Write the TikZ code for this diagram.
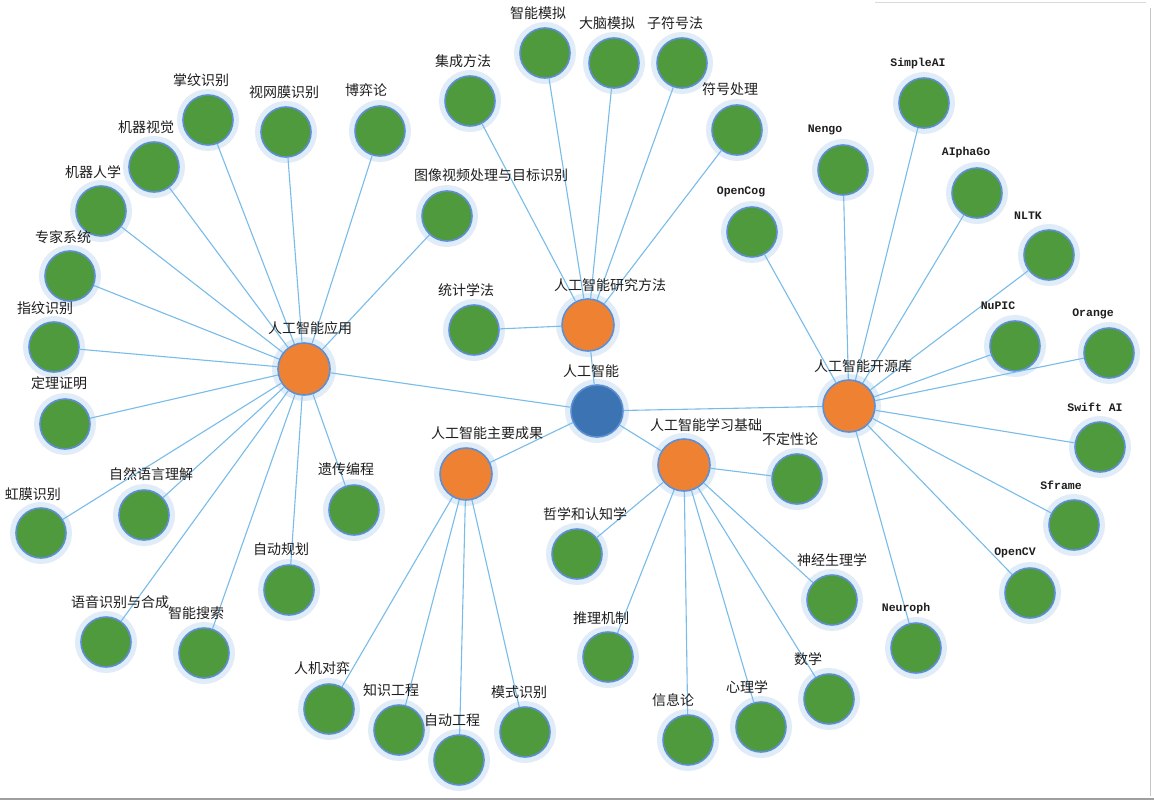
\documentclass[tikz,border=0pt]{standalone}
\usepackage{fontspec}
\setmainfont{Noto Sans CJK SC}
\newfontfamily\latinmono{Liberation Mono}
\definecolor{leafgreen}{HTML}{4F9A3C}
\definecolor{huborange}{HTML}{EF8232}
\definecolor{rootblue}{HTML}{3C73B2}
\definecolor{ringblue}{HTML}{5C8FD4}
\definecolor{haloblue}{HTML}{E1ECF9}
\definecolor{edgeblue}{HTML}{78BCE9}
\definecolor{inkgray}{HTML}{1E1E1E}
\begin{document}
\begin{tikzpicture}[x=1pt,y=-1pt,
	ball/.style={circle,inner sep=0pt,minimum size=50pt,draw=ringblue,line width=1.6pt,
		preaction={draw=haloblue,line width=12pt}},
	leaf/.style={ball,fill=leafgreen},
	hub/.style={ball,fill=huborange,minimum size=52pt},
	root/.style={ball,fill=rootblue,minimum size=52pt},
	lab/.style={font=\fontsize{14}{14}\selectfont,text=inkgray,inner sep=0pt},
	tlab/.style={font=\latinmono\bfseries\fontsize{11.5}{12}\selectfont,text=inkgray,inner sep=0pt},
	edge/.style={draw=edgeblue,line width=1.1pt}]
	\fill[white] (0,0) rectangle (1154,800);
	\useasboundingbox (0,0) rectangle (1154,800);
	\draw[gray!75,line width=1.5pt] (0,799) -- (1154,799);
	\draw[gray!30,line width=0.8pt] (875,2) -- (1146,2);
	\draw[gray!45,line width=0.8pt] (1150,8) -- (1150,796);
	% hubs
	\node[root] (ai) at (597,411) {};
	\node[hub] (app) at (304,369) {};
	\node[hub] (meth) at (588,325) {};
	\node[hub] (lib) at (849,406) {};
	\node[hub] (res) at (466,474) {};
	\node[hub] (base) at (684,465) {};
	% applications
	\node[leaf] (palm) at (208,120) {};
	\node[leaf] (retina) at (286,132) {};
	\node[leaf] (game) at (380,131) {};
	\node[leaf] (vision) at (154,167) {};
	\node[leaf] (robot) at (101,211) {};
	\node[leaf] (expert) at (70,276) {};
	\node[leaf] (finger) at (54,347) {};
	\node[leaf] (theorem) at (65,424) {};
	\node[leaf] (iris) at (41,533) {};
	\node[leaf] (nlu) at (144,515) {};
	\node[leaf] (speech) at (106,642) {};
	\node[leaf] (search) at (204,653) {};
	\node[leaf] (plan) at (289,590) {};
	\node[leaf] (genetic) at (354,510) {};
	\node[leaf] (video) at (447,216) {};
	% methods
	\node[leaf] (ensemble) at (470,101) {};
	\node[leaf] (smart) at (545,53) {};
	\node[leaf] (brain) at (614,63) {};
	\node[leaf] (subsym) at (682,63) {};
	\node[leaf] (symbol) at (737,130) {};
	\node[leaf] (stats) at (474,330) {};
	% libraries
	\node[leaf] (opencog) at (752,232) {};
	\node[leaf] (nengo) at (843,170) {};
	\node[leaf] (simpleai) at (924,103) {};
	\node[leaf] (alphago) at (977,193) {};
	\node[leaf] (nltk) at (1049,255) {};
	\node[leaf] (nupic) at (1015,346) {};
	\node[leaf] (orange) at (1109,353) {};
	\node[leaf] (swift) at (1100,447) {};
	\node[leaf] (sframe) at (1074,525) {};
	\node[leaf] (opencv) at (1030,593) {};
	\node[leaf] (neuroph) at (916,648) {};
	% results
	\node[leaf] (duel) at (329,709) {};
	\node[leaf] (know) at (399,730) {};
	\node[leaf] (autoeng) at (459,760) {};
	\node[leaf] (pattern) at (525,732) {};
	% foundations
	\node[leaf] (uncert) at (797,479) {};
	\node[leaf] (philo) at (577,554) {};
	\node[leaf] (reason) at (608,657) {};
	\node[leaf] (info) at (688,740) {};
	\node[leaf] (psych) at (761,727) {};
	\node[leaf] (math) at (829,699) {};
	\node[leaf] (neuro) at (832,600) {};
	% connectors
	\foreach \h in {app,meth,lib,res,base}
		\draw[edge] (ai) -- (\h);
	\foreach \t in {palm,retina,game,vision,robot,expert,finger,theorem,iris,nlu,speech,search,plan,genetic,video}
		\draw[edge] (app) -- (\t);
	\foreach \t in {ensemble,smart,brain,subsym,symbol,stats}
		\draw[edge] (meth) -- (\t);
	\foreach \t in {opencog,nengo,simpleai,alphago,nltk,nupic,orange,swift,sframe,opencv,neuroph}
		\draw[edge] (lib) -- (\t);
	\foreach \t in {duel,know,autoeng,pattern}
		\draw[edge] (res) -- (\t);
	\foreach \t in {uncert,philo,reason,info,psych,math,neuro}
		\draw[edge] (base) -- (\t);
	% labels
	\node[lab] (ai-l) at (591,371) {人工智能};
	\node[lab] (app-l) at (310,328) {人工智能应用};
	\node[lab] (meth-l) at (610,285) {人工智能研究方法};
	\node[lab] (lib-l) at (863,366) {人工智能开源库};
	\node[lab] (res-l) at (487,433) {人工智能主要成果};
	\node[lab] (base-l) at (706,425) {人工智能学习基础};
	\node[lab] (palm-l) at (201,80) {掌纹识别};
	\node[lab] (retina-l) at (284,92) {视网膜识别};
	\node[lab] (game-l) at (366,90) {博弈论};
	\node[lab] (vision-l) at (146,127) {机器视觉};
	\node[lab] (robot-l) at (93,172) {机器人学};
	\node[lab] (expert-l) at (63,237) {专家系统};
	\node[lab] (finger-l) at (45,308) {指纹识别};
	\node[lab] (theorem-l) at (59,383) {定理证明};
	\node[lab] (iris-l) at (33,494) {虹膜识别};
	\node[lab] (nlu-l) at (151,474) {自然语言理解};
	\node[lab] (speech-l) at (120,602) {语音识别与合成};
	\node[lab] (search-l) at (196,613) {智能搜索};
	\node[lab] (plan-l) at (281,549) {自动规划};
	\node[lab] (genetic-l) at (346,469) {遗传编程};
	\node[lab] (video-l) at (491,175) {图像视频处理与目标识别};
	\node[lab] (ensemble-l) at (463,61) {集成方法};
	\node[lab] (smart-l) at (538,13) {智能模拟};
	\node[lab] (brain-l) at (607,23) {大脑模拟};
	\node[lab] (subsym-l) at (675,23) {子符号法};
	\node[lab] (symbol-l) at (730,89) {符号处理};
	\node[lab] (stats-l) at (466,290) {统计学法};
	\node[tlab] (opencog-l) at (741,192) {OpenCog};
	\node[tlab] (nengo-l) at (825,130) {Nengo};
	\node[tlab] (simpleai-l) at (918,64) {SimpleAI};
	\node[tlab] (alphago-l) at (966,153) {AIphaGo};
	\node[tlab] (nltk-l) at (1028,216) {NLTK};
	\node[tlab] (nupic-l) at (998,306) {NuPIC};
	\node[tlab] (orange-l) at (1093,314) {Orange};
	\node[tlab] (swift-l) at (1095,407) {Swift AI};
	\node[tlab] (sframe-l) at (1061,485) {Sframe};
	\node[tlab] (opencv-l) at (1015,553) {OpenCV};
	\node[tlab] (neuroph-l) at (906,609) {Neuroph};
	\node[lab] (duel-l) at (322,668) {人机对弈};
	\node[lab] (know-l) at (391,690) {知识工程};
	\node[lab] (autoeng-l) at (452,720) {自动工程};
	\node[lab] (pattern-l) at (519,692) {模式识别};
	\node[lab] (uncert-l) at (790,439) {不定性论};
	\node[lab] (philo-l) at (585,514) {哲学和认知学};
	\node[lab] (reason-l) at (601,618) {推理机制};
	\node[lab] (info-l) at (673,700) {信息论};
	\node[lab] (psych-l) at (747,687) {心理学};
	\node[lab] (math-l) at (808,659) {数学};
	\node[lab] (neuro-l) at (832,560) {神经生理学};
\end{tikzpicture}
\end{document}
